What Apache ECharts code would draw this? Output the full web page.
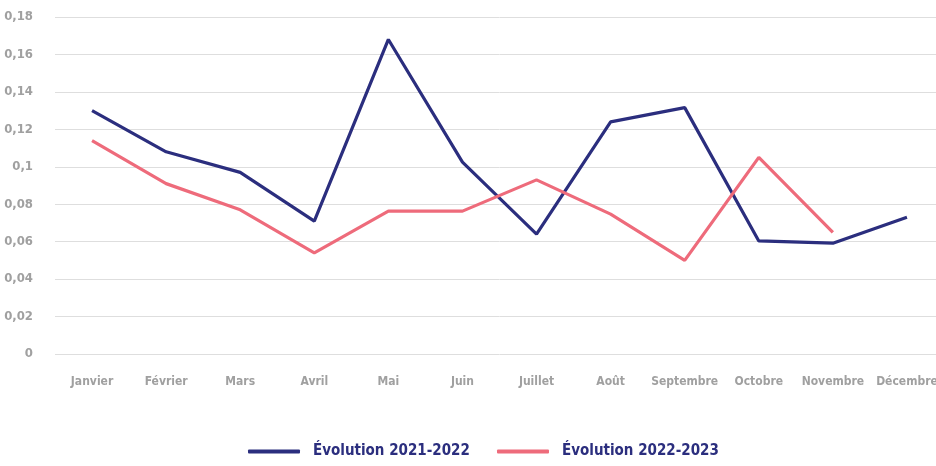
<!DOCTYPE html>
<html lang="fr">
<head>
    <meta charset="utf-8">
    <title>Évolution</title>
    <script src="https://cdn.jsdelivr.net/npm/echarts@6/dist/echarts.min.js"></script>
    <style>
        html, body { margin: 0; padding: 0; background: #fff; overflow: hidden; }
        #chart { width: 946px; height: 466px; }
    </style>
</head>
<body>
    <div id="chart"></div>
    <script>
        // mois
        const months = ['Janvier', 'Février', 'Mars', 'Avril', 'Mai', 'Juin', 'Juillet', 'Août', 'Septembre', 'Octobre', 'Novembre', 'Décembre'];
        // séries
        const evol2122 = [0.13, 0.108, 0.097, 0.071, 0.168, 0.1025, 0.064, 0.124, 0.1316, 0.0604, 0.0592, 0.073];
        const evol2223 = [0.114, 0.091, 0.077, 0.054, 0.0763, 0.0763, 0.093, 0.0747, 0.050, 0.105, 0.065, null];

        const font = '"DejaVu Sans Condensed", "Liberation Sans Narrow", sans-serif';
        const navy = '#2b2e7e';
        const pink = '#ee6b7b';

        // une légende par série pour caler les positions
        function legendAt(left, name) {
            return {
                bottom: 2,
                left: left,
                itemWidth: 52,
                itemHeight: 4,
                icon: 'roundRect',
                textStyle: { color: navy, fontSize: 15, fontWeight: 'bold', fontFamily: font, padding: [0, 0, 0, 8] },
                data: [name]
            };
        }

        const chart = echarts.init(document.getElementById('chart'));
        chart.setOption({
            animation: false,
            textStyle: { fontFamily: font },
            grid: { left: 55, right: 2, top: 17, bottom: 112 },
            legend: [
                legendAt(243, 'Évolution 2021-2022'),
                legendAt(492, 'Évolution 2022-2023')
            ],
            xAxis: {
                type: 'category',
                data: months,
                axisLine: { show: false },
                axisTick: { show: false },
                axisLabel: { color: '#a0a0a0', fontSize: 12, fontWeight: 'bold', margin: 22, interval: 0 }
            },
            yAxis: {
                type: 'value',
                min: 0,
                max: 0.18,
                interval: 0.02,
                axisLabel: {
                    color: '#a0a0a0', fontSize: 13, fontWeight: 'bold', margin: 22,
                    formatter: v => String(Math.round(v * 100) / 100).replace('.', ',')
                },
                splitLine: { lineStyle: { color: '#dedede', width: 1 } }
            },
            series: [
                {
                    name: 'Évolution 2021-2022',
                    type: 'line',
                    data: evol2122,
                    symbol: 'none',
                    color: navy,
                    lineStyle: { width: 3.2 }
                },
                {
                    name: 'Évolution 2022-2023',
                    type: 'line',
                    data: evol2223,
                    symbol: 'none',
                    color: pink,
                    lineStyle: { width: 3.2 }
                }
            ]
        });
    </script>
</body>
</html>
